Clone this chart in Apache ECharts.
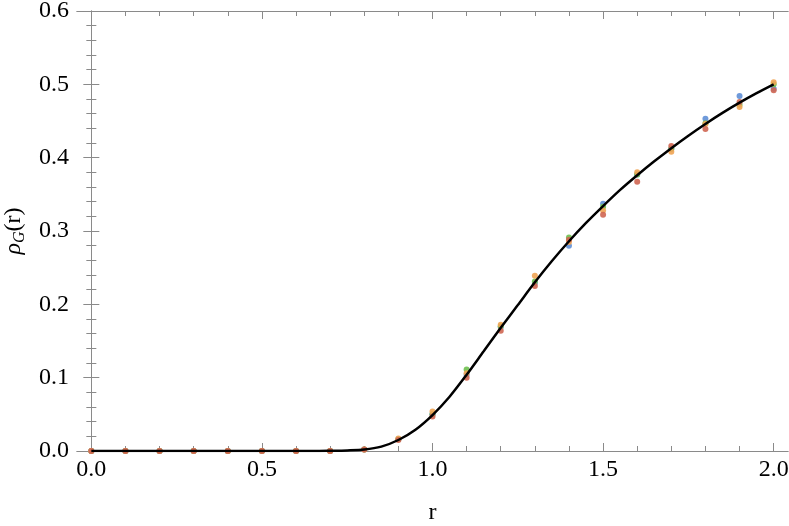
<!DOCTYPE html>
<html>
<head>
<meta charset="utf-8">
<script src="https://cdn.jsdelivr.net/npm/echarts@6/dist/echarts.min.js"></script>
<style>html,body{margin:0;padding:0;background:#fff}#c{width:789px;height:526px}</style>
</head>
<body>
<div id="c"></div>
<script>
// r sample positions for points
const rPoints = [0,0.1,0.2,0.3,0.4,0.5,0.6,0.7,0.8,0.9,1.0,1.1,1.2,1.3,1.4,1.5,1.6,1.7,1.8,1.9,2.0];
const blueVals   = [0,0,0,0,0,0,0,0,0.002,0.016,0.050,0.104,0.169,0.229,0.280,0.337,0.377,0.412,0.453,0.484,0.494];
const orangeVals = [0,0,0,0,0,0,0,0,0.002,0.017,0.054,0.106,0.172,0.239,0.285,0.328,0.380,0.408,0.446,0.469,0.503];
const greenVals  = [0,0,0,0,0,0,0,0,0.002,0.016,0.050,0.111,0.170,0.231,0.291,0.333,0.377,0.412,0.447,0.472,0.500];
const redVals    = [0,0,0,0,0,0,0,0,0.002,0.015,0.047,0.100,0.164,0.225,0.288,0.322,0.367,0.416,0.439,0.476,0.492];
// theory curve
const rCurve = [0,0.05,0.1,0.15,0.2,0.25,0.3,0.35,0.4,0.45,0.5,0.55,0.6,0.65,0.7,0.75,0.8,0.85,0.9,0.95,1.0,1.05,1.1,1.15,1.2,1.25,1.3,1.35,1.4,1.45,1.5,1.55,1.6,1.65,1.7,1.75,1.8,1.85,1.9,1.95,2.0];
const curveVals = [0,0,0,0,0,0,0,0,0,0,0,0,0,0,0.0003,0.0008,0.002,0.006,0.015,0.029,0.049,0.074,0.104,0.136,0.168,0.199,0.230,0.259,0.286,0.311,0.334,0.356,0.376,0.395,0.413,0.430,0.446,0.461,0.475,0.488,0.500];
// ticks
const xMajorTicks = [0,0.5,1.0,1.5,2.0];
const xMinorTicks = [0,0.1,0.2,0.3,0.4,0.5,0.6,0.7,0.8,0.9,1.0,1.1,1.2,1.3,1.4,1.5,1.6,1.7,1.8,1.9,2.0];

const zip = (xs, ys) => xs.map((x, i) => [x, ys[i]]);
const frameColor = '#8a8a8a';
const font = 'Liberation Serif';
const fs = 24;
const xMin = -0.042, xMax = 2.042;

function xAx(pos, vals, len, labels) {
  return {
    type: 'value', position: pos, min: xMin, max: xMax,
    axisLine: {show: true, lineStyle: {color: frameColor, width: 1}},
    axisTick: {show: true, inside: true, length: len, customValues: vals, lineStyle: {color: frameColor}},
    axisLabel: labels ? {show: true, customValues: xMajorTicks, margin: 7, color: '#000', fontFamily: font, fontSize: fs, formatter: v => v.toFixed(1)} : {show: false},
    splitLine: {show: false}
  };
}
function yAx(pos, labels) {
  return {
    type: 'value', position: pos, min: 0, max: 0.6, interval: 0.1,
    axisLine: {show: true, lineStyle: {color: frameColor, width: 1}},
    axisTick: {show: true, inside: true, length: 8, lineStyle: {color: frameColor}},
    minorTick: {show: true, splitNumber: 5, length: 5, lineStyle: {color: frameColor}},
    axisLabel: labels ? {show: true, margin: 8, color: '#000', fontFamily: font, fontSize: fs, formatter: v => v.toFixed(1)} : {show: false},
    splitLine: {show: false}, minorSplitLine: {show: false}
  };
}

const xAxes = [xAx('bottom', xMajorTicks, 8, true), xAx('bottom', xMinorTicks, 5, false), xAx('top', xMajorTicks, 8, false), xAx('top', xMinorTicks, 5, false)];
xAxes[0].name = 'r';
xAxes[0].nameLocation = 'middle';
xAxes[0].nameGap = 50;
xAxes[0].nameTextStyle = {color: '#000', fontFamily: font, fontSize: fs};
const yAxes = [yAx('left', true), yAx('right', false)];
yAxes[0].name = '{i|ρ}{s|G}{n|(r)}';
yAxes[0].nameLocation = 'middle';
yAxes[0].nameGap = 49;
yAxes[0].nameTextStyle = {
  color: '#000', fontFamily: font, fontSize: fs,
  rich: {
    i: {fontFamily: font, fontStyle: 'italic', fontSize: fs, color: '#000', lineHeight: 28, verticalAlign: 'middle'},
    s: {fontFamily: font, fontStyle: 'italic', fontSize: 16, color: '#000', padding: [12, 0, 0, 0], verticalAlign: 'middle'},
    n: {fontFamily: font, fontSize: fs, color: '#000', lineHeight: 28, verticalAlign: 'middle'}
  }
};

function dots(name, vals, color) {
  return {name, type: 'scatter', data: zip(rPoints, vals), symbolSize: 6, itemStyle: {color, opacity: 0.9}, z: 2, silent: true};
}

const option = {
  animation: false,
  backgroundColor: '#fff',
  grid: {left: 77, right: 1, top: 11, bottom: 75, containLabel: false, outerBoundsMode: 'none'},
  xAxis: xAxes,
  yAxis: yAxes,
  series: [
    dots('blue', blueVals, '#5f8fd6'),
    dots('green', greenVals, '#6fc050'),
    dots('orange', orangeVals, '#f0a454'),
    dots('red', redVals, '#cf6652'),
    {name: 'curve', type: 'line', data: zip(rCurve, curveVals), smooth: 0.3, showSymbol: false, lineStyle: {color: '#000', width: 2.5}, z: 5, silent: true}
  ]
};
const chart = echarts.init(document.getElementById('c'), null, {renderer: 'canvas'});
chart.setOption(option);
</script>
</body>
</html>
